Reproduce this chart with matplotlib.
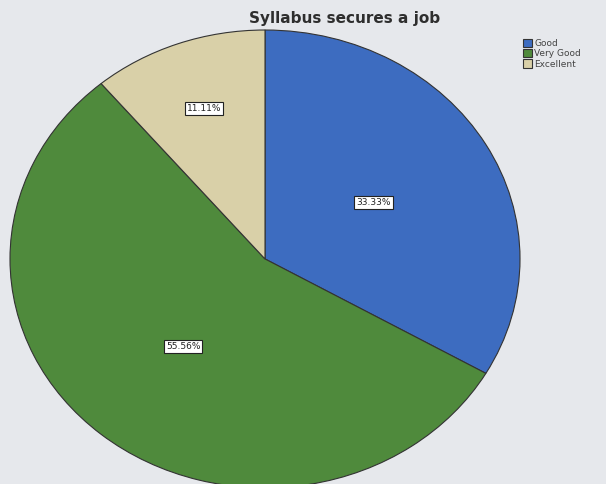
import numpy as np
import matplotlib.pyplot as plt

categories = ["Good", "Very Good", "Excellent"]
values = [33.33, 55.56, 11.11]
colors = ["#3d6cc0", "#4f8a3c", "#d9d0a8"]
label_dist = [0.49, 0.50, 0.70]

fig = plt.figure(figsize=(6.06, 4.84), dpi=100)
fig.patch.set_facecolor("#e6e8ec")
ax = fig.add_axes([0.0165, -0.008, 0.8416, 0.946])
ax.set_facecolor("#e6e8ec")

wedges, texts, autotexts = ax.pie(
    values, colors=colors, startangle=90, counterclock=False,
    autopct="%.2f%%", radius=1,
    wedgeprops=dict(edgecolor="#333333", linewidth=0.8),
    textprops=dict(fontsize=6.5, color="#222222"))

# move the percent boxes to where the original puts them
for w, t, d in zip(wedges, autotexts, label_dist):
    ang = np.deg2rad((w.theta1 + w.theta2) / 2)
    t.set_position((d * np.cos(ang), d * np.sin(ang)))
    t.set_bbox(dict(facecolor="white", edgecolor="#222222", linewidth=0.8, pad=1.5))

ax.set_aspect("auto")
ax.set_xlim(-1, 1)
ax.set_ylim(-1, 1)
ax.axis("off")

fig.text(345 / 606, 1 - 18 / 484, "Syllabus secures a job", ha="center", va="center",
         fontsize=11, fontweight="bold", color="#2e2e2e")

leg = fig.legend(wedges, categories, loc="upper left", bbox_to_anchor=(518 / 606, 1 - 34 / 484),
                 frameon=False, fontsize=6.5, handlelength=1.0, handleheight=1.0,
                 handletextpad=0.3, labelspacing=0.15, borderpad=0)
for t in leg.get_texts():
    t.set_color("#444444")

fig.savefig("out.png", dpi=100, facecolor=fig.get_facecolor())
